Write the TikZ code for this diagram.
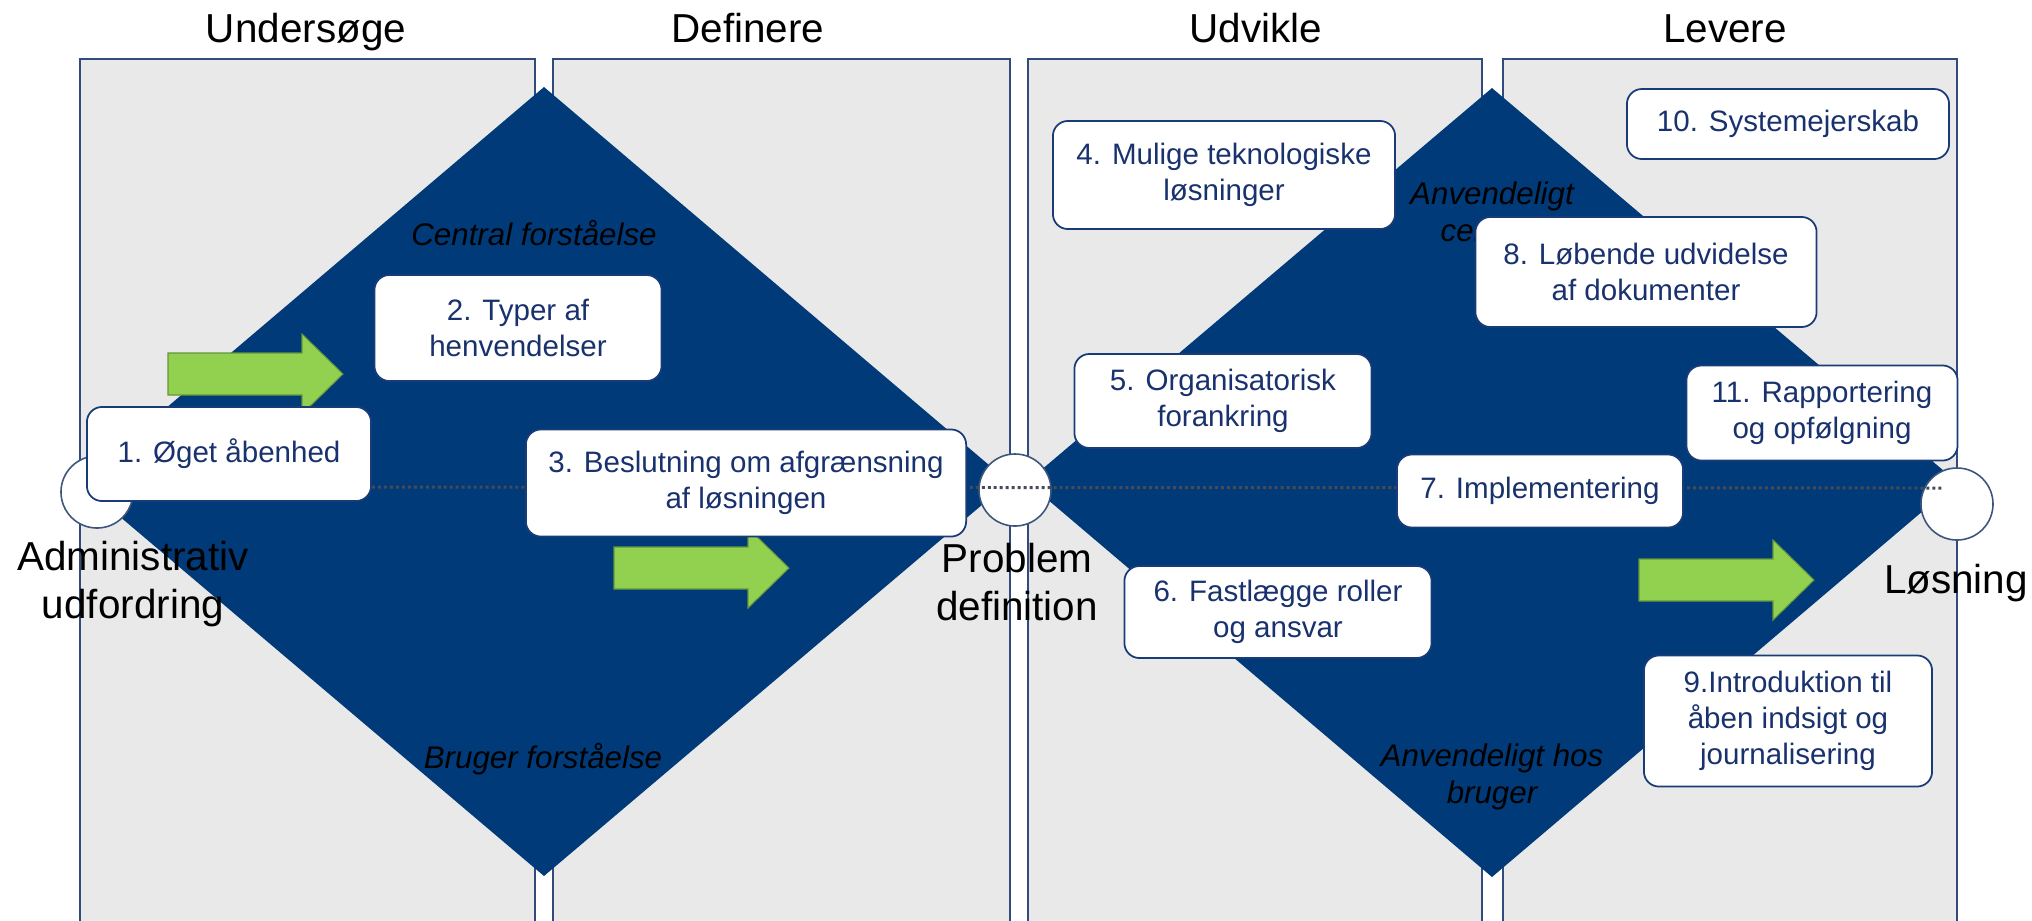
\documentclass[tikz,border=0pt]{standalone}
\usepackage{fontspec}
\setmainfont{Liberation Sans}
\usepackage{tikz}
\definecolor{diamant}{RGB}{0,58,120}
\definecolor{feltgraa}{RGB}{233,233,233}
\definecolor{feltkant}{RGB}{50,75,125}
\definecolor{kantblaa}{RGB}{25,60,120}
\definecolor{tekstblaa}{RGB}{25,50,110}
\definecolor{cirkelkant}{RGB}{60,85,125}
\definecolor{pilgroen}{RGB}{146,208,80}
\definecolor{pilkant}{RGB}{100,150,60}
\definecolor{prikgraa}{RGB}{70,75,85}

\begin{document}
\begin{tikzpicture}[x=0.01cm,y=-0.01cm,
	felt/.style={fill=feltgraa,draw=feltkant,line width=0.45pt},
	fase/.style={font=\fontsize{11.5pt}{13.4pt}\selectfont,align=center},
	kursiv/.style={font=\fontsize{8.9pt}{10.5pt}\selectfont\itshape,align=center},
	punkt/.style={circle,draw=cirkelkant,fill=white,line width=0.45pt,minimum size=0.72cm,inner sep=0pt},
	prikket/.style={draw=prikgraa,line width=0.85pt,dash pattern=on 0.85pt off 0.85pt},
	pil/.style={fill=pilgroen,draw=pilkant,line width=0.3pt},
	etape/.style={draw=kantblaa,fill=white,rounded corners=0.15cm,line width=0.5pt,text=tekstblaa,align=center,font=\fontsize{8.4pt}{10.2pt}\selectfont}]
		\useasboundingbox (0,0) rectangle (2032,920);
		%Felter
		\foreach \a/\b in {80/535,553/1010,1028/1482,1503/1957}
		\draw[felt] (\a,925) -- (\a,59) -- (\b,59) -- (\b,925);
		%Overskrifter
		\node[fase,anchor=base] (undersoege) at (306,42) {Undersøge};
		\node[fase,anchor=base] (definere) at (748,42) {Definere};
		\node[fase,anchor=base] (udvikle) at (1256,42) {Udvikle};
		\node[fase,anchor=base] (levere) at (1725,42) {Levere};
		%Diamanter
		\fill[diamant] (79,482) -- (544,87) -- (1009,482) -- (544,876) -- cycle;
		\fill[diamant] (1027,482) -- (1492,88) -- (1957,482) -- (1492,877) -- cycle;
		\node[kursiv,anchor=base] (central) at (534,245) {Central forståelse};
		\node[kursiv,anchor=base] (bruger) at (543,768) {Bruger forståelse};
		\node[kursiv] (anvcentral) at (1492,212) {Anvendeligt\\centralt};
		\node[kursiv] (anvbruger) at (1492,777) {Anvendeligt hos\\bruger};
		%Cirkler
		\node[punkt] (adm) at (97,492) {};
		\node[punkt] (prob) at (1015,490) {};
		\node[punkt] (los) at (1957,504) {};
		\coordinate (start) at (97,487);
		\coordinate (slut) at (1943,488);
		\draw[prikket] (start) -- (slut);
		\node[fase] (admtekst) at (133,584) {Administrativ\\udfordring};
		\node[fase] (probtekst) at (1017,582) {Problem\\definition};
		\node[fase,anchor=base] (lostekst) at (1956,593) {Løsning};
		%Pile
		\foreach \x/\y in {168/374,614/568,1639/580}
		\draw[pil] (\x,{\y-21}) -- ({\x+134},{\y-21}) -- ({\x+134},{\y-40}) -- ({\x+175},\y)
		-- ({\x+134},{\y+40}) -- ({\x+134},{\y+21}) -- (\x,{\y+21}) -- cycle;
		%Etaper
		\node[etape,minimum width=2.84cm,minimum height=0.94cm] (e1) at (229,454) {1. Øget åbenhed};
		\node[etape,minimum width=2.87cm,minimum height=1.06cm] (e2) at (518,328) {2. Typer af\\henvendelser};
		\node[etape,minimum width=4.40cm,minimum height=1.07cm] (e3) at (746,483) {3. Beslutning om afgrænsning\\af løsningen};
		\node[etape,minimum width=3.42cm,minimum height=1.08cm] (e4) at (1224,175) {4. Mulige teknologiske\\løsninger};
		\node[etape,minimum width=2.97cm,minimum height=0.94cm] (e5) at (1223,401) {5. Organisatorisk\\forankring};
		\node[etape,minimum width=3.07cm,minimum height=0.92cm] (e6) at (1278,612) {6. Fastlægge roller\\og ansvar};
		\node[etape,minimum width=2.86cm,minimum height=0.73cm] (e7) at (1540,491) {7. Implementering};
		\node[etape,minimum width=3.41cm,minimum height=1.10cm] (e8) at (1646,272) {8. Løbende udvidelse\\af dokumenter};
		\node[etape,minimum width=2.88cm,minimum height=1.31cm] (e9) at (1788,721) {9.Introduktion til\\åben indsigt og\\journalisering};
		\node[etape,minimum width=3.22cm,minimum height=0.70cm] (e10) at (1788,124) {10. Systemejerskab};
		\node[etape,minimum width=2.71cm,minimum height=0.95cm] (e11) at (1822,413) {11. Rapportering\\og opfølgning};
\end{tikzpicture}
\end{document}
